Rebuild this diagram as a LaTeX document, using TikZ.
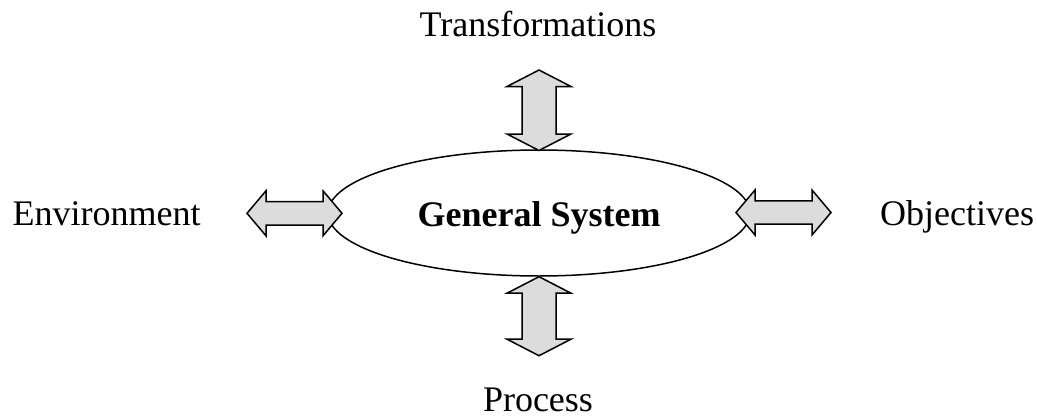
\documentclass[tikz,border=0pt]{standalone}
\usepackage{fontspec}
\setmainfont{Liberation Serif}
\usetikzlibrary{shapes.geometric}
\definecolor{arrowgray}{HTML}{DCDCDC}
\newcommand\hdarr[3]{% left tip x, right tip x, centre y
  \draw[dar] (#1,#3) -- (#1+19,#3-22.5) -- (#1+19,#3-11.7) -- (#2-19,#3-11.7)
    -- (#2-19,#3-22.5) -- (#2,#3) -- (#2-19,#3+22.5) -- (#2-19,#3+11.7)
    -- (#1+19,#3+11.7) -- (#1+19,#3+22.5) -- cycle;}
\newcommand\vdarr[3]{% top tip y, bottom tip y, centre x
  \draw[dar] (#3,#1) -- (#3+32,#1+16.5) -- (#3+17,#1+16.5) -- (#3+17,#2-16.5)
    -- (#3+32,#2-16.5) -- (#3,#2) -- (#3-32,#2-16.5) -- (#3-17,#2-16.5)
    -- (#3-17,#1+16.5) -- (#3-32,#1+16.5) -- cycle;}
\begin{document}
\begin{tikzpicture}[x=1pt,y=-1pt,
  lbl/.style={font=\fontsize{36}{40}\selectfont, anchor=base, inner sep=0pt},
  dar/.style={draw=black, fill=arrowgray, line width=1.5pt, line join=miter}]
\useasboundingbox (0,0) rectangle (1037,418);
\node[draw, ellipse, line width=1.5pt, minimum width=422pt, minimum height=126pt, inner sep=0pt] (sys) at (539,213) {};
\node[lbl, font=\fontsize{36}{40}\selectfont\bfseries] (gs) at (539,226.5) {General System};
\hdarr{247}{342}{213.3}
\hdarr{736}{831}{212.5}
\vdarr{70}{150.5}{539}
\vdarr{276.7}{355.7}{539}
\node[lbl] (tr) at (538,36) {Transformations};
\node[lbl] (pr) at (538,411) {Process};
\node[lbl] (en) at (106.7,225.5) {Environment};
\node[lbl] (ob) at (957,225) {Objectives};
\end{tikzpicture}
\end{document}
